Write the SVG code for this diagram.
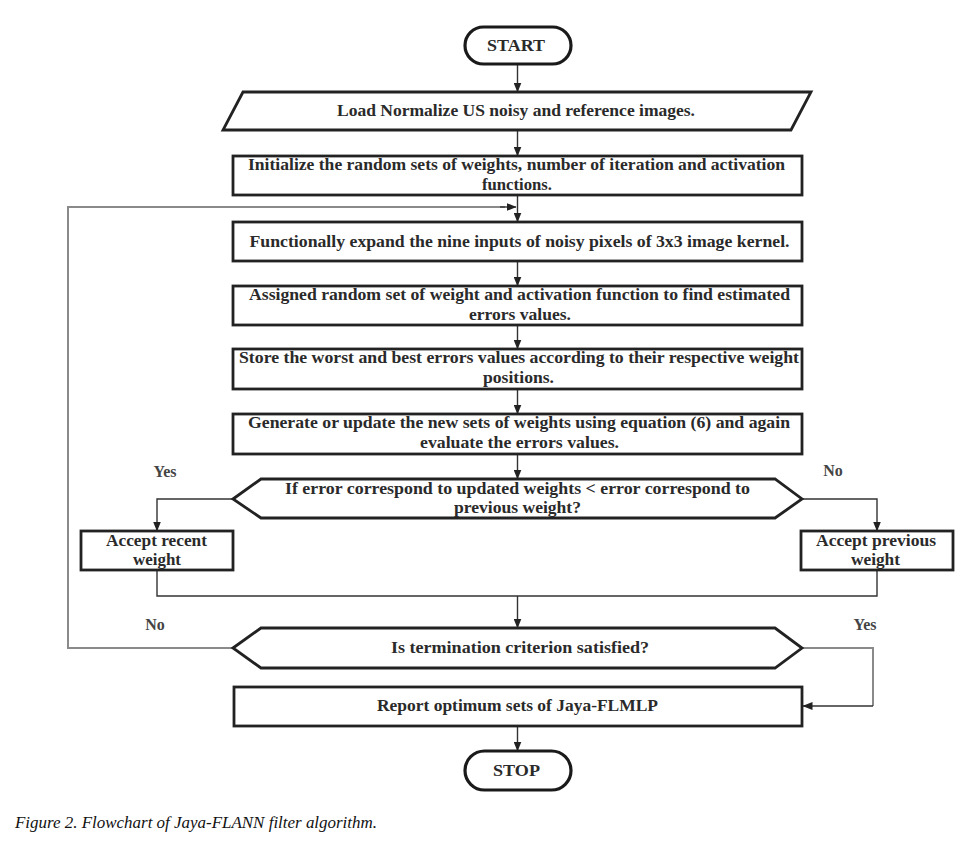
<svg xmlns="http://www.w3.org/2000/svg" width="966" height="841" viewBox="0 0 966 841">
<style>
.box{fill:#fff;stroke:#222;stroke-width:2.8}
.term{fill:#fff;stroke:#1a1a1a;stroke-width:3.2}
.t{font-family:"Liberation Serif","Times New Roman",serif;font-weight:bold;font-size:17px;fill:#2a2a2a;text-anchor:middle}
.lbl{font-family:"Liberation Serif","Times New Roman",serif;font-weight:bold;font-size:16px;fill:#444;text-anchor:middle}
.c{fill:none;stroke:#333;stroke-width:1.4}
.g{fill:none;stroke:#8a8a8a;stroke-width:2}
.cap{font-family:"Liberation Serif","Times New Roman",serif;font-style:italic;font-size:16px;fill:#111}
</style>
<defs>
<marker id="ah" markerWidth="10" markerHeight="8" refX="9.5" refY="4" orient="auto" markerUnits="userSpaceOnUse">
<path d="M0,0 L10,4 L0,8 z" fill="#222"/>
</marker>
</defs>
<rect width="966" height="841" fill="#fff"/>

<g id="connectors">
<line class="c" x1="517.5" y1="64" x2="517.5" y2="92" marker-end="url(#ah)"/>
<line class="c" x1="517.5" y1="130" x2="517.5" y2="156" marker-end="url(#ah)"/>
<line class="c" x1="517.5" y1="195" x2="517.5" y2="222" marker-end="url(#ah)"/>
<line class="c" x1="517.5" y1="261" x2="517.5" y2="286" marker-end="url(#ah)"/>
<line class="c" x1="517.5" y1="325" x2="517.5" y2="349" marker-end="url(#ah)"/>
<line class="c" x1="517.5" y1="389" x2="517.5" y2="414" marker-end="url(#ah)"/>
<line class="c" x1="517.5" y1="454" x2="517.5" y2="479" marker-end="url(#ah)"/>
<polyline class="c" points="233,499 157,499 157,531" marker-end="url(#ah)"/>
<polyline class="c" points="802,499 877,499 877,531" marker-end="url(#ah)"/>
<polyline class="c" points="157,570 157,596 877,596 877,570"/>
<line class="c" x1="517.5" y1="596" x2="517.5" y2="628" marker-end="url(#ah)"/>
<polyline class="g" points="233,648 68,648 68,207 505,207"/>
<line class="c" x1="500" y1="207" x2="516" y2="207" marker-end="url(#ah)"/>
<polyline class="g" points="802,648 873,648 873,706"/>
<line class="c" x1="873" y1="706" x2="803" y2="706" marker-end="url(#ah)"/>
<line class="c" x1="517.5" y1="726" x2="517.5" y2="751" marker-end="url(#ah)"/>
</g>

<g id="start">
<rect class="term" x="465" y="27" width="106" height="37" rx="18.5"/>
<text class="t" x="516" y="51" textLength="58" lengthAdjust="spacingAndGlyphs">START</text>
</g>

<g id="load">
<polygon class="box" points="243,92 811,92 791,130 223,130"/>
<text class="t" x="516" y="116" textLength="358" lengthAdjust="spacingAndGlyphs">Load Normalize US noisy and reference images.</text>
</g>

<g id="init">
<rect class="box" x="233" y="156" width="569" height="39"/>
<text class="t" x="516.5" y="170" textLength="537" lengthAdjust="spacingAndGlyphs">Initialize the random sets of weights, number of iteration and activation</text>
<text class="t" x="517" y="190" textLength="70" lengthAdjust="spacingAndGlyphs">functions.</text>
</g>

<g id="expand">
<rect class="box" x="233" y="222" width="569" height="39"/>
<text class="t" x="519.5" y="247" textLength="540" lengthAdjust="spacingAndGlyphs">Functionally expand the nine inputs of noisy pixels of 3x3 image kernel.</text>
</g>

<g id="assign">
<rect class="box" x="233" y="286" width="569" height="39"/>
<text class="t" x="519.5" y="300" textLength="541" lengthAdjust="spacingAndGlyphs">Assigned random set of weight and activation function to find estimated</text>
<text class="t" x="520" y="320" textLength="102" lengthAdjust="spacingAndGlyphs">errors values.</text>
</g>

<g id="store">
<rect class="box" x="233" y="349" width="569" height="40"/>
<text class="t" x="519" y="363" textLength="560" lengthAdjust="spacingAndGlyphs">Store the worst and best errors values according to their respective weight</text>
<text class="t" x="518.5" y="383" textLength="71" lengthAdjust="spacingAndGlyphs">positions.</text>
</g>

<g id="generate">
<rect class="box" x="233" y="414" width="569" height="40"/>
<text class="t" x="519" y="428" textLength="542" lengthAdjust="spacingAndGlyphs">Generate or update the new sets of weights using equation (6) and again</text>
<text class="t" x="519.5" y="448" textLength="199" lengthAdjust="spacingAndGlyphs">evaluate the errors values.</text>
</g>

<g id="decision1">
<polygon class="box" points="233,499 261,479 775,479 802,499 775,518 261,518"/>
<text class="t" x="517.5" y="494" textLength="465" lengthAdjust="spacingAndGlyphs">If error correspond to updated weights &lt;  error correspond to</text>
<text class="t" x="517.5" y="513" textLength="127" lengthAdjust="spacingAndGlyphs">previous weight?</text>
</g>

<g id="labels1">
<text class="lbl" x="165" y="477">Yes</text>
<text class="lbl" x="833" y="476">No</text>
</g>

<g id="accept-recent">
<rect class="box" x="81" y="531" width="152" height="39"/>
<text class="t" x="156.5" y="546" textLength="101" lengthAdjust="spacingAndGlyphs">Accept recent</text>
<text class="t" x="157" y="565" textLength="48" lengthAdjust="spacingAndGlyphs">weight</text>
</g>

<g id="accept-previous">
<rect class="box" x="801" y="531" width="152" height="39"/>
<text class="t" x="876" y="546" textLength="120" lengthAdjust="spacingAndGlyphs">Accept previous</text>
<text class="t" x="875.5" y="565" textLength="49" lengthAdjust="spacingAndGlyphs">weight</text>
</g>

<g id="decision2">
<polygon class="box" points="233,648 261,628 775,628 802,648 775,668 261,668"/>
<text class="t" x="520" y="653" textLength="258" lengthAdjust="spacingAndGlyphs">Is termination criterion satisfied?</text>
</g>

<g id="labels2">
<text class="lbl" x="155" y="630">No</text>
<text class="lbl" x="865" y="630">Yes</text>
</g>

<g id="report">
<rect class="box" x="234" y="687" width="568" height="39"/>
<text class="t" x="517.5" y="711" textLength="281" lengthAdjust="spacingAndGlyphs">Report optimum sets of Jaya-FLMLP</text>
</g>

<g id="stop">
<rect class="term" x="465" y="751" width="106" height="39" rx="19.5"/>
<text class="t" x="516.5" y="776" textLength="47" lengthAdjust="spacingAndGlyphs">STOP</text>
</g>

<text class="cap" x="15" y="828" textLength="362" lengthAdjust="spacingAndGlyphs">Figure 2. Flowchart of Jaya-FLANN filter algorithm.</text>
</svg>
